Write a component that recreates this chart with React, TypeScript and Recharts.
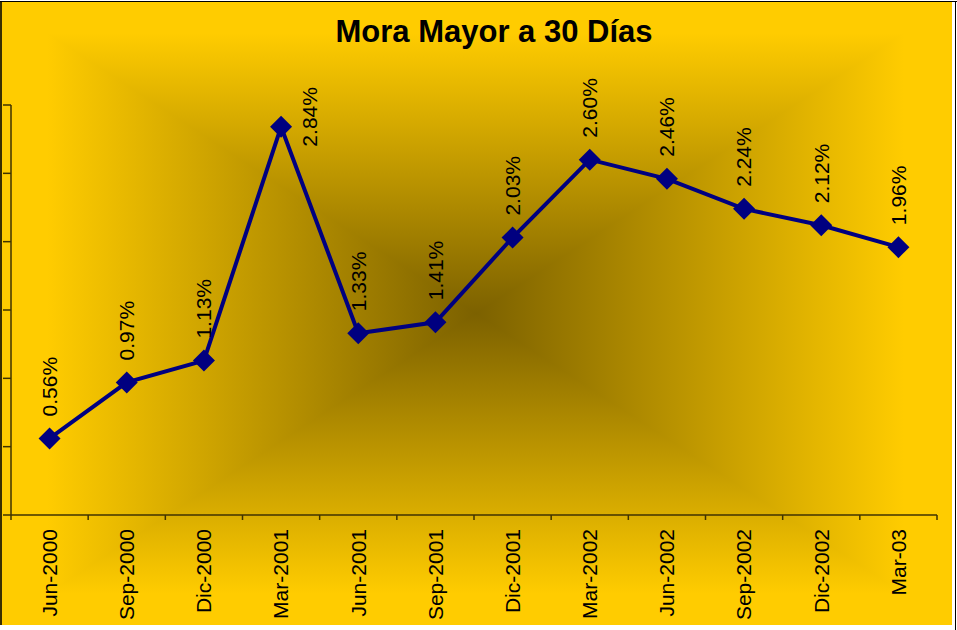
import React from "react";
import { LineChart, Line, XAxis, YAxis, LabelList } from "recharts";

const categories = [
  "Jun-2000", "Sep-2000", "Dic-2000", "Mar-2001", "Jun-2001", "Sep-2001",
  "Dic-2001", "Mar-2002", "Jun-2002", "Sep-2002", "Dic-2002", "Mar-03",
];
const moraValues = [0.56, 0.97, 1.13, 2.84, 1.33, 1.41, 2.03, 2.6, 2.46, 2.24, 2.12, 1.96];
const yTicks = [0, 0.5, 1, 1.5, 2, 2.5, 3];
const title = "Mora Mayor a 30 Días";

const data = categories.map((name, i) => ({ name, value: moraValues[i] }));

const FONT = '"Liberation Sans", Arial, sans-serif';
const CHART_W = 952;
const CHART_H = 625;
const MARGIN = { top: 105, right: 15, left: 0, bottom: 0 };
const Y_AXIS_W = 11;
const PLOT_W = CHART_W - MARGIN.left - MARGIN.right - Y_AXIS_W;
const STEP = PLOT_W / categories.length;
const NAVY = "#000080";
const AXIS = "#3f3300";

function CategoryTick(props: any) {
  const { x, y, payload, index } = props;
  const half = STEP / 2;
  const last = index === categories.length - 1;
  return (
    <g>
      <line x1={x - half} y1={y} x2={x - half} y2={y + 5} stroke={AXIS} strokeWidth={1.5} />
      {last && <line x1={x + half} y1={y} x2={x + half} y2={y + 5} stroke={AXIS} strokeWidth={1.5} />}
      <text
        transform={`translate(${x},${y + 14}) rotate(-90)`}
        textAnchor="end"
        dy="0.35em"
        fontSize={21}
        fontFamily={FONT}
        fill="#000"
      >
        {payload.value}
      </text>
    </g>
  );
}

function ValueLabel(props: any) {
  const { x, y, value } = props;
  const text = `${Number(value).toFixed(2)}%`;
  const textLen = text.length * 12;
  // not enough room above: put the label to the right of the point
  if (y - 22 - textLen < 60) {
    return (
      <text
        transform={`translate(${x + 28},${y - 10}) rotate(-90)`}
        textAnchor="middle"
        dominantBaseline="central"
        fontSize={21}
        fontFamily={FONT}
        fill="#000"
      >
        {text}
      </text>
    );
  }
  return (
    <text
      transform={`translate(${x},${y - 22}) rotate(-90)`}
      textAnchor="start"
      dy="0.35em"
      fontSize={21}
      fontFamily={FONT}
      fill="#000"
    >
      {text}
    </text>
  );
}

function Diamond(props: any) {
  const { cx, cy } = props;
  if (cx == null || cy == null) return null;
  const r = 11;
  return <polygon points={`${cx},${cy - r} ${cx + r},${cy} ${cx},${cy + r} ${cx - r},${cy}`} fill={NAVY} />;
}

const EmptyTick = () => <g />;

function Background() {
  const w = CHART_W;
  const h = CHART_H - 2;
  const cx = w / 2;
  const cy = h / 2;
  const light = "#FFCC00";
  const dark = "#7C6100";
  return (
    <svg width={w} height={h} style={{ position: "absolute", left: 0, top: 2 }}>
      <defs>
        <linearGradient id="gHoriz" gradientUnits="userSpaceOnUse" x1={0} y1={0} x2={w} y2={0}>
          <stop offset="0.05" stopColor={light} />
          <stop offset="0.5" stopColor={dark} />
          <stop offset="0.95" stopColor={light} />
        </linearGradient>
        <linearGradient id="gVert" gradientUnits="userSpaceOnUse" x1={0} y1={0} x2={0} y2={h}>
          <stop offset="0.05" stopColor={light} />
          <stop offset="0.5" stopColor={dark} />
          <stop offset="0.95" stopColor={light} />
        </linearGradient>
      </defs>
      <rect x={0} y={0} width={w} height={h} fill="url(#gHoriz)" />
      <polygon points={`0,0 ${w},0 ${cx},${cy}`} fill="url(#gVert)" />
      <polygon points={`0,${h} ${w},${h} ${cx},${cy}`} fill="url(#gVert)" />
      <rect x={0} y={0} width={2} height={h} fill="#3a2f00" />
      <text x={494} y={40} textAnchor="middle" fontSize={31} fontWeight="bold" fontFamily={FONT} fill="#000">
        {title}
      </text>
    </svg>
  );
}

export default function App() {
  return (
    <div style={{ position: "absolute", left: 0, top: 0, width: 957, height: 630, background: "#fff", overflow: "hidden" }}>
      <div style={{ position: "absolute", left: 0, top: 1, width: 957, height: 1, background: "#000" }} />
      <div style={{ position: "absolute", left: 955, top: 1, width: 1, height: 629, background: "#000" }} />
      <Background />
      <div style={{ position: "absolute", left: 0, top: 0 }}>
        <LineChart width={CHART_W} height={CHART_H} data={data} margin={MARGIN}>
          <XAxis
            dataKey="name"
            height={110}
            interval={0}
            tickSize={0}
            tickMargin={0}
            tickLine={false}
            padding={{ left: STEP / 2, right: STEP / 2 }}
            axisLine={{ stroke: AXIS, strokeWidth: 1.5 }}
            tick={(p: any) => <CategoryTick {...p} />}
          />
          <YAxis
            width={Y_AXIS_W}
            domain={[0, 3]}
            ticks={yTicks}
            interval={0}
            tickSize={8}
            tick={EmptyTick}
            tickLine={{ stroke: AXIS, strokeWidth: 1.5 }}
            axisLine={{ stroke: AXIS, strokeWidth: 1.5 }}
          />
          <Line
            dataKey="value"
            stroke={NAVY}
            strokeWidth={4}
            dot={<Diamond />}
            activeDot={false}
            isAnimationActive={false}
          >
            <LabelList dataKey="value" content={<ValueLabel />} />
          </Line>
        </LineChart>
      </div>
    </div>
  );
}
